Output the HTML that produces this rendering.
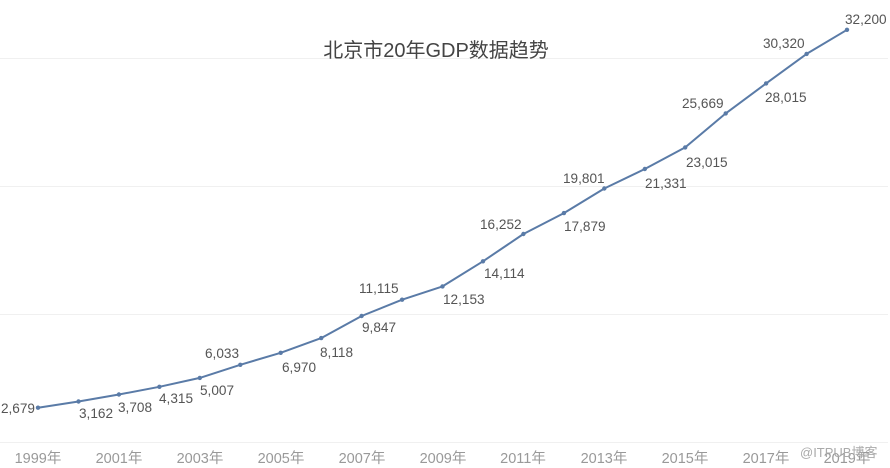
<!DOCTYPE html>
<html><head><meta charset="utf-8"><style>
html,body{margin:0;padding:0;background:#fff;}
svg{display:block;}
text{font-family:"Liberation Sans","Noto Sans CJK SC",sans-serif;}
</style></head><body>
<svg width="890" height="468" viewBox="0 0 890 468" xmlns="http://www.w3.org/2000/svg">
<g stroke="#f0f0f0" stroke-width="1">
<line x1="0" y1="58.5" x2="888" y2="58.5"/>
<line x1="0" y1="186.5" x2="888" y2="186.5"/>
<line x1="0" y1="314.5" x2="888" y2="314.5"/>
<line x1="0" y1="442.5" x2="888" y2="442.5"/>
</g>
<text x="436" y="57" text-anchor="middle" font-size="20" fill="#444">北京市20年GDP数据趋势</text>
<polyline fill="none" stroke="#5a7ba7" stroke-width="2" stroke-linejoin="round" points="38,407.7 78.5,401.5 118.9,394.5 159.4,386.8 199.8,377.9 240.3,364.8 280.7,352.8 321.2,338.1 361.6,316.0 402.1,299.7 442.5,286.4 483.0,261.3 523.4,234.0 563.9,213.1 604.3,188.5 644.8,169.0 685.2,147.4 725.7,113.4 766.1,83.4 806.6,53.9 847,29.8"/>
<g fill="#5a7ba7">
<circle cx="38" cy="407.7" r="2.2"/><circle cx="78.5" cy="401.5" r="2.2"/><circle cx="118.9" cy="394.5" r="2.2"/><circle cx="159.4" cy="386.8" r="2.2"/><circle cx="199.8" cy="377.9" r="2.2"/><circle cx="240.3" cy="364.8" r="2.2"/><circle cx="280.7" cy="352.8" r="2.2"/><circle cx="321.2" cy="338.1" r="2.2"/><circle cx="361.6" cy="316.0" r="2.2"/><circle cx="402.1" cy="299.7" r="2.2"/><circle cx="442.5" cy="286.4" r="2.2"/><circle cx="483.0" cy="261.3" r="2.2"/><circle cx="523.4" cy="234.0" r="2.2"/><circle cx="563.9" cy="213.1" r="2.2"/><circle cx="604.3" cy="188.5" r="2.2"/><circle cx="644.8" cy="169.0" r="2.2"/><circle cx="685.2" cy="147.4" r="2.2"/><circle cx="725.7" cy="113.4" r="2.2"/><circle cx="766.1" cy="83.4" r="2.2"/><circle cx="806.6" cy="53.9" r="2.2"/><circle cx="847" cy="29.8" r="2.2"/>
</g>
<g font-size="13.6" fill="#555">
<text x="35" y="413" text-anchor="end">2,679</text>
<text x="79" y="418">3,162</text>
<text x="118" y="412">3,708</text>
<text x="159" y="403">4,315</text>
<text x="200" y="395">5,007</text>
<text x="205" y="358">6,033</text>
<text x="282" y="372">6,970</text>
<text x="320" y="357">8,118</text>
<text x="362" y="332">9,847</text>
<text x="359" y="293">11,115</text>
<text x="443" y="304">12,153</text>
<text x="484" y="278">14,114</text>
<text x="480" y="229">16,252</text>
<text x="564" y="231">17,879</text>
<text x="563" y="183">19,801</text>
<text x="645" y="188">21,331</text>
<text x="686" y="167">23,015</text>
<text x="682" y="108">25,669</text>
<text x="765" y="102">28,015</text>
<text x="763" y="48">30,320</text>
<text x="845" y="24">32,200</text>
</g>
<g font-size="14.5" fill="#999" text-anchor="middle">
<text x="38" y="463">1999年</text>
<text x="119" y="463">2001年</text>
<text x="200" y="463">2003年</text>
<text x="281" y="463">2005年</text>
<text x="362" y="463">2007年</text>
<text x="443" y="463">2009年</text>
<text x="523" y="463">2011年</text>
<text x="604" y="463">2013年</text>
<text x="685" y="463">2015年</text>
<text x="766" y="463">2017年</text>
<text x="847" y="463">2019年</text>
</g>
<text x="800" y="457" font-size="13" fill="#aaa">@ITPUB博客</text>
</svg>
</body></html>
